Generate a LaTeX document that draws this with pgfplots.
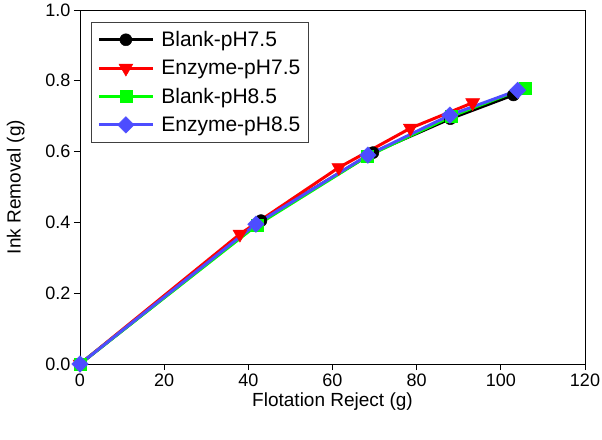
\documentclass[border=0pt]{standalone}
\usepackage{fontspec}
\setmainfont{Liberation Sans}
\usepackage{pgfplots}
\pgfplotsset{compat=1.18}

\definecolor{cRed}{RGB}{255,0,0}
\definecolor{cGreen}{RGB}{0,255,0}
\definecolor{cBlue}{RGB}{77,77,255}

\begin{document}
\begin{tikzpicture}
  \path[use as bounding box] (-80pt,-75pt) rectangle (522pt,364pt);
  \begin{axis}[
      at={(0pt,0pt)}, anchor=origin,
      scale only axis, width=505pt, height=354pt,
      xmin=0, xmax=120, ymin=0, ymax=1.0,
      xtick={0,20,...,120}, ytick={0,0.2,...,1.0},
      xtick pos=left, ytick pos=left,
      tick align=outside, major tick length=6pt,
      axis line style={line width=0.8pt}, tick style={line width=0.8pt, black},
      yticklabel style={/pgf/number format/.cd, fixed, fixed zerofill, precision=1},
      /pgf/number format/assume math mode=true,
      ticklabel style={font=\fontsize{18}{20}\selectfont},
      label style={font=\fontsize{19}{22}\selectfont},
      xlabel={Flotation Reject (g)}, ylabel={Ink Removal (g)},
      xlabel style={yshift=0pt}, ylabel style={yshift=14pt},
      legend cell align=left,
      legend style={at={(11/505,1-12/354)}, anchor=north west,
        font=\fontsize{21}{24}\selectfont, draw=black!75, line width=0.8pt,
        row sep=8pt, inner xsep=6pt, inner ysep=7pt,
        /tikz/every odd column/.append style={column sep=5pt}},
      legend image code/.code={\draw[mark repeat=2, mark phase=2]
        plot coordinates {(0pt,0pt) (27pt,0pt) (54pt,0pt)};},
      every axis plot/.append style={line width=3pt},
    ]
    \addplot[black, mark=*, mark size=6pt, mark options={solid, line width=0.5pt}] coordinates {
      (0,0) (43.0,0.405) (69.6,0.597) (88.0,0.693) (103.0,0.760) };
    \addlegendentry{Blank-pH7.5}
    \addplot[cRed, mark=triangle*, mark size=8pt, mark options={solid, rotate=180, line width=0.5pt}] coordinates {
      (0,0) (38.0,0.367) (61.5,0.555) (78.5,0.666) (93.3,0.738) };
    \addlegendentry{Enzyme-pH7.5}
    \addplot[cGreen, mark=square*, mark size=6pt, mark options={solid, line width=0.5pt}] coordinates {
      (0,0) (42.0,0.392) (68.3,0.587) (88.3,0.700) (105.8,0.780) };
    \addlegendentry{Blank-pH8.5}
    \addplot[cBlue, mark=square*, mark size=5.8pt, mark options={solid, rotate=45, line width=0.5pt}] coordinates {
      (0,0) (41.8,0.395) (68.4,0.590) (87.9,0.703) (104.0,0.773) };
    \addlegendentry{Enzyme-pH8.5}
  \end{axis}
\end{tikzpicture}
\end{document}
